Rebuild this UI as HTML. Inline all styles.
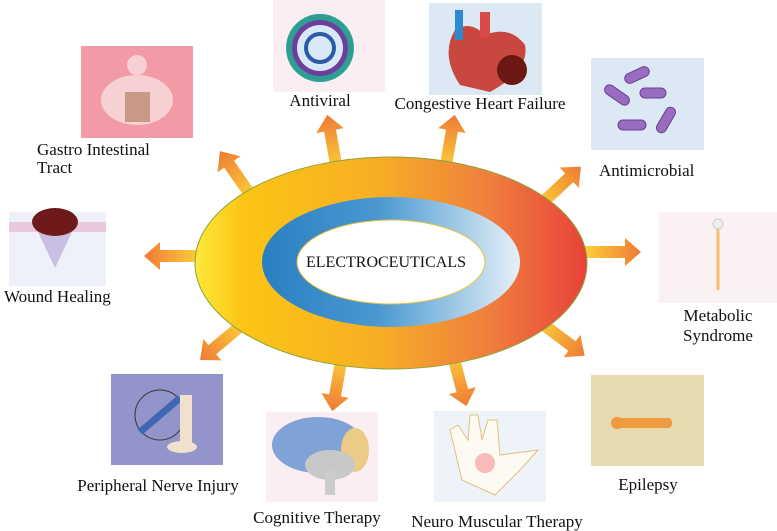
<!DOCTYPE html>
<html><head><meta charset="utf-8"><style>
html,body{margin:0;padding:0;background:#fff;}
svg{display:block;font-family:"Liberation Serif",serif;}
</style></head><body>
<svg width="777" height="531" viewBox="0 0 777 531" xmlns="http://www.w3.org/2000/svg">
<defs>
<linearGradient id="og" x1="0" x2="1" y1="0" y2="0">
<stop offset="0" stop-color="#fde93a"/><stop offset="0.12" stop-color="#fcc515"/><stop offset="0.45" stop-color="#f7b023"/><stop offset="0.75" stop-color="#ef7f3d"/><stop offset="1" stop-color="#e8423a"/></linearGradient>
<linearGradient id="bg" x1="0" x2="1"><stop offset="0" stop-color="#2a7fc1"/><stop offset="0.45" stop-color="#4a98d0"/><stop offset="1" stop-color="#e6f0f8"/></linearGradient>
<linearGradient id="ag" x1="0" x2="1" y1="0" y2="0"><stop offset="0" stop-color="#fde23a"/><stop offset="1" stop-color="#ef7a35"/></linearGradient>
<g id="arr"><polygon points="-12,-6 40,-6 40,-14 56,0 40,14 40,6 -12,6" fill="url(#ag)"/></g>
</defs>

<use href="#arr" transform="translate(337,170) rotate(-100)"/>
<use href="#arr" transform="translate(445,170) rotate(-80)"/>
<use href="#arr" transform="translate(540,205) rotate(-43)"/>
<use href="#arr" transform="translate(585,252) rotate(0)"/>
<use href="#arr" transform="translate(540,322) rotate(37)"/>
<use href="#arr" transform="translate(452,352) rotate(75)"/>
<use href="#arr" transform="translate(342,356) rotate(100)"/>
<use href="#arr" transform="translate(243,324) rotate(140)"/>
<use href="#arr" transform="translate(200,256) rotate(180)"/>
<use href="#arr" transform="translate(252,197) rotate(-125)"/>

<ellipse cx="391" cy="263" rx="196" ry="106" fill="url(#og)" stroke="#8aa33a" stroke-width="1"/>
<ellipse cx="391" cy="262" rx="129" ry="65" fill="url(#bg)"/>
<ellipse cx="391" cy="262" rx="94" ry="42" fill="#fff" stroke="#e5c040" stroke-width="1"/>
<text x="386" y="267" font-size="16" text-anchor="middle" fill="#111">ELECTROCEUTICALS</text>

<rect x="81" y="46" width="112" height="92" fill="#f29aa6"/>
<ellipse cx="137" cy="100" rx="36" ry="25" fill="#f6d0d3"/><circle cx="137" cy="65" r="10" fill="#f6d0d3"/>
<rect x="125" y="92" width="25" height="30" fill="#c89a85"/>

<rect x="273" y="0" width="112" height="92" fill="#fbeef3"/>
<circle cx="320" cy="48" r="34" fill="#2e9e95"/><circle cx="320" cy="48" r="28" fill="#6c3f9a"/><circle cx="320" cy="48" r="23" fill="#d9e7f6"/>
<circle cx="320" cy="48" r="14" fill="none" stroke="#2a5aa8" stroke-width="4"/>

<rect x="429" y="3" width="113" height="92" fill="#dce9f4"/>
<path d="M455 30 Q440 55 460 85 L490 92 Q530 70 525 45 Q510 25 485 35 Q470 20 455 30Z" fill="#c8483f"/>
<rect x="455" y="10" width="8" height="30" fill="#2b8ad1"/><rect x="480" y="12" width="10" height="25" fill="#d84a45"/>
<circle cx="512" cy="70" r="15" fill="#6b1814"/>

<rect x="591" y="58" width="113" height="92" fill="#dce9f4"/>
<g fill="#9a6cbf" stroke="#6b3f94"><rect x="624" y="70" width="26" height="10" rx="5" transform="rotate(-25 637 75)"/><rect x="603" y="90" width="28" height="10" rx="5" transform="rotate(35 617 95)"/><rect x="640" y="88" width="26" height="10" rx="5"/><rect x="618" y="120" width="28" height="10" rx="5"/><rect x="652" y="115" width="28" height="10" rx="5" transform="rotate(-60 666 120)"/></g>

<rect x="659" y="212" width="118" height="91" fill="#fbf1f2"/>
<line x1="718" y1="228" x2="718" y2="290" stroke="#f0c070" stroke-width="3"/><circle cx="718" cy="224" r="5" fill="#eee" stroke="#ccc"/>

<rect x="591" y="375" width="113" height="91" fill="#e6dbb0"/>
<rect x="612" y="418" width="60" height="10" rx="4" fill="#f09a40"/><circle cx="617" cy="423" r="6" fill="#f09a40"/>

<rect x="434" y="411" width="112" height="91" fill="#eef3fa"/>
<path d="M450 430 L462 480 L495 495 L520 470 L538 450 L500 455 L497 420 L488 420 L482 440 L478 415 L470 415 L468 440 L458 425Z" fill="#fdfaf4" stroke="#e0c27a"/>
<circle cx="485" cy="463" r="10" fill="#f4a0a0" opacity="0.7"/>

<rect x="266" y="412" width="112" height="90" fill="#fbeef3"/>
<ellipse cx="318" cy="445" rx="46" ry="28" fill="#7fa3d6"/><ellipse cx="355" cy="450" rx="14" ry="22" fill="#eccb86"/>
<ellipse cx="330" cy="465" rx="25" ry="15" fill="#c8c8c8"/><rect x="325" y="470" width="10" height="25" fill="#ccc"/>

<rect x="111" y="374" width="112" height="91" fill="#9394c9"/>
<circle cx="160" cy="415" r="25" fill="none" stroke="#333" stroke-width="1"/>
<line x1="140" y1="432" x2="180" y2="398" stroke="#3f67b5" stroke-width="7"/>
<rect x="180" y="395" width="12" height="50" fill="#efe1cc"/><ellipse cx="182" cy="447" rx="15" ry="6" fill="#efe1cc"/>

<rect x="9" y="212" width="97" height="74" fill="#eef1fa"/>
<rect x="9" y="222" width="97" height="10" fill="#e8c8dc"/>
<path d="M38 232 L55 268 L72 232Z" fill="#c9bfe4"/>
<ellipse cx="55" cy="222" rx="23" ry="14" fill="#6e1a1a"/>

<g font-size="17" fill="#111">
<text x="37" y="155">Gastro Intestinal</text>
<text x="37" y="173">Tract</text>
<text x="320" y="106" text-anchor="middle">Antiviral</text>
<text x="480" y="109" text-anchor="middle">Congestive Heart Failure</text>
<text x="599" y="176">Antimicrobial</text>
<text x="718" y="321" text-anchor="middle">Metabolic</text>
<text x="718" y="341" text-anchor="middle">Syndrome</text>
<text x="648" y="490" text-anchor="middle">Epilepsy</text>
<text x="497" y="527" text-anchor="middle">Neuro Muscular Therapy</text>
<text x="317" y="523" text-anchor="middle">Cognitive Therapy</text>
<text x="158" y="491" text-anchor="middle">Peripheral Nerve Injury</text>
<text x="4" y="302">Wound Healing</text>
</g>
</svg>
</body></html>
